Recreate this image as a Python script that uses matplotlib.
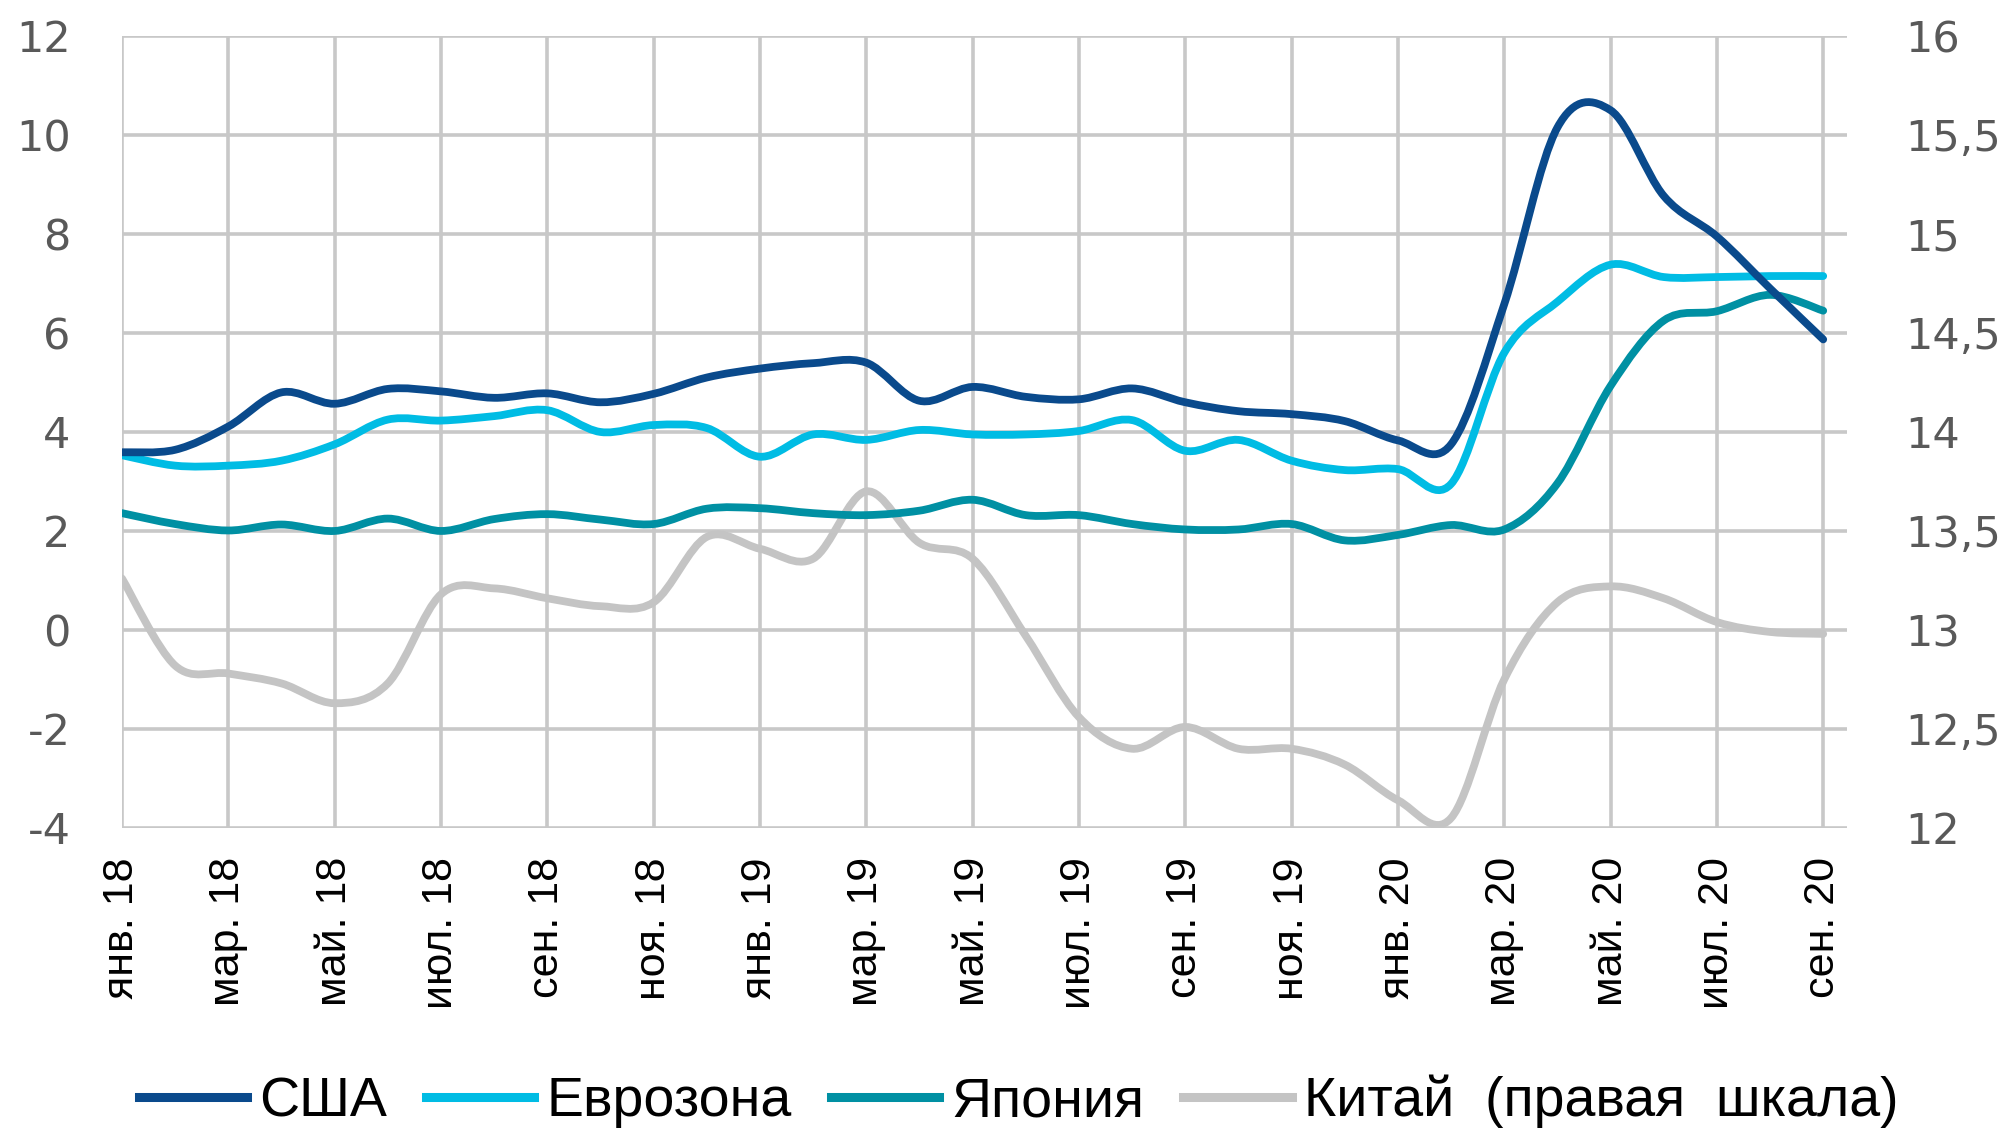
import numpy as np
import matplotlib
matplotlib.use("Agg")
import matplotlib.pyplot as plt
from matplotlib.path import Path
from matplotlib.patches import PathPatch
from matplotlib.lines import Line2D

# monthly values, Jan 2018 .. Sep 2020
usa = [3.59, 3.64, 4.11, 4.80, 4.57, 4.87, 4.82, 4.69, 4.78, 4.60, 4.77, 5.10,
       5.28, 5.39, 5.40, 4.63, 4.91, 4.71, 4.66, 4.88, 4.60, 4.42, 4.36, 4.22,
       3.83, 3.75, 6.58, 10.15, 10.50, 8.77, 7.95, 6.90, 5.87]
euro = [3.53, 3.32, 3.32, 3.42, 3.75, 4.25, 4.23, 4.32, 4.44, 4.00, 4.14, 4.08,
        3.50, 3.95, 3.84, 4.04, 3.95, 3.95, 4.02, 4.24, 3.62, 3.84, 3.42, 3.23,
        3.25, 2.95, 5.60, 6.63, 7.38, 7.13, 7.13, 7.15, 7.15]
japan = [2.36, 2.14, 2.01, 2.13, 2.00, 2.25, 2.00, 2.24, 2.34, 2.23, 2.14, 2.45,
         2.46, 2.36, 2.32, 2.41, 2.63, 2.32, 2.32, 2.14, 2.03, 2.03, 2.14, 1.81,
         1.92, 2.12, 2.03, 2.96, 4.93, 6.25, 6.44, 6.77, 6.45]
china = [13.26, 12.82, 12.78, 12.73, 12.63, 12.73, 13.18, 13.21, 13.16, 13.12, 13.14, 13.47,
         13.41, 13.36, 13.70, 13.44, 13.36, 12.97, 12.56, 12.40, 12.51, 12.40, 12.40, 12.32,
         12.14, 12.05, 12.75, 13.14, 13.22, 13.16, 13.04, 12.99, 12.98]

xlabels = ["янв. 18", "мар. 18", "май. 18", "июл. 18", "сен. 18", "ноя. 18",
           "янв. 19", "мар. 19", "май. 19", "июл. 19", "сен. 19", "ноя. 19",
           "янв. 20", "мар. 20", "май. 20", "июл. 20", "сен. 20"]
names = ["США", "Еврозона", "Япония", "Китай  (правая  шкала)"]
colors = ["#0A4A8C", "#00BCE4", "#0090A3", "#C4C4C4"]

left_ticks = [-4, -2, 0, 2, 4, 6, 8, 10, 12]
right_ticks = [12, 12.5, 13, 13.5, 14, 14.5, 15, 15.5, 16]
right_labels = ["12", "12,5", "13", "13,5", "14", "14,5", "15", "15,5", "16"]


def smooth(x, y):
    # excel-like smoothed line as cubic bezier path
    P = np.column_stack([x, y]).astype(float)
    Pp = np.vstack([P[0], P, P[-1]])
    verts = [P[0]]
    codes = [Path.MOVETO]
    for i in range(len(P) - 1):
        c1 = P[i] + (Pp[i + 2] - Pp[i]) / 6
        c2 = P[i + 1] - (Pp[i + 3] - Pp[i + 1]) / 6
        verts += [c1, c2, P[i + 1]]
        codes += [Path.CURVE4] * 3
    return Path(verts, codes)


fig = plt.figure(figsize=(20.13, 11.32), dpi=100)
ax = fig.add_axes([0.0606, 0.2686, 0.857, 0.6996])
ax2 = ax.twinx()

x = np.arange(len(usa))
ax.set_xlim(0, 32.45)
ax.set_ylim(-4, 12)
ax2.set_ylim(12, 16)

ax.add_patch(PathPatch(smooth(x, china), fill=False, ec=colors[3], lw=5.6,
                       capstyle="round", joinstyle="round", transform=ax2.transData, zorder=2))
for s, c in zip([japan, euro, usa], [colors[2], colors[1], colors[0]]):
    ax.add_patch(PathPatch(smooth(x, s), fill=False, ec=c, lw=5.6,
                           capstyle="round", joinstyle="round", zorder=3))

ax.set_xticks(np.arange(0, 33, 2))
ax.set_xticklabels(xlabels, rotation=90, family="Liberation Sans", fontsize=31, color="black",
                   va="top", ha="center")
ax.set_yticks(left_ticks)
ax.set_yticklabels([str(t) for t in left_ticks], family="DejaVu Sans", fontsize=31, color="#595959")
ax2.set_yticks(right_ticks)
ax2.set_yticklabels(right_labels, family="DejaVu Sans", fontsize=31, color="#595959")

ax.grid(True, color="#C8C8C8", lw=2.6, zorder=0)
ax.set_axisbelow(True)
for a in (ax, ax2):
    for sp in a.spines.values():
        sp.set_visible(False)
ax.tick_params(axis="both", length=0)
ax.tick_params(axis="x", pad=21)
ax.tick_params(axis="y", pad=37)
ax2.tick_params(axis="y", length=0, pad=42)

handles = [Line2D([], [], color=c, lw=6.5) for c in colors]
fig.legend(handles, names, loc="center", bbox_to_anchor=(0.506, 0.027), ncol=4,
           frameon=False, prop={"family": "Liberation Sans", "size": 40},
           handlelength=1.95, handletextpad=0.22, columnspacing=0.7)

fig.savefig("out.png", dpi=100)
